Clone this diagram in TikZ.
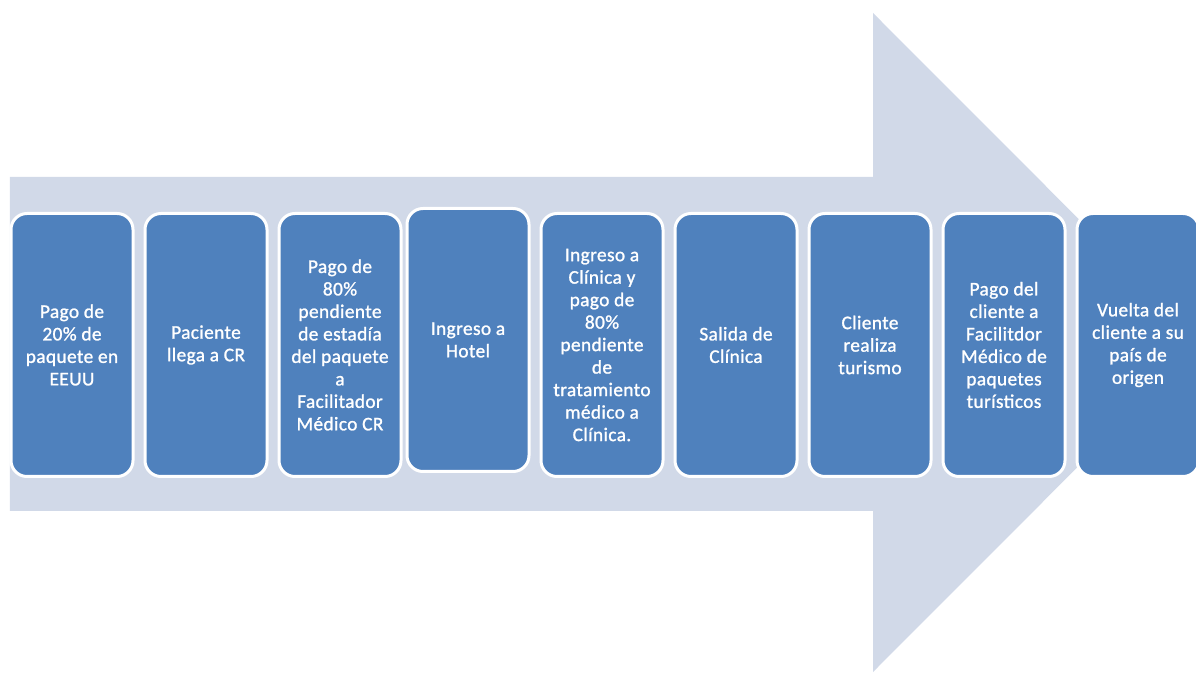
\documentclass[tikz,border=0pt]{standalone}
\usepackage{fontspec}
\usepackage{tikz}
\usetikzlibrary{positioning}
\newfontfamily\boxfont[FakeBold=1.2,LetterSpace=2]{Carlito}
\definecolor{boxblue}{HTML}{4F81BD}
\definecolor{arrowgray}{HTML}{D1D9E8}

\begin{document}
\begin{tikzpicture}[
    node distance=0.24cm,
    stepbox/.style={
        rectangle, draw=white, fill=boxblue, line width=0.06cm,
        rounded corners=0.32cm, outer sep=0pt,
        minimum width=2.44cm, minimum height=5.26cm,
        align=center, text=white, font=\boxfont\fontsize{11}{12.8}\selectfont
    }
]
    \useasboundingbox (0,0) rectangle (23.92,-13.46);
    % big arrow behind the steps
    \fill[arrowgray] (0.2,-3.54) -- (17.46,-3.54) -- (17.46,-0.26) -- (24.04,-6.85)
        -- (17.46,-13.44) -- (17.46,-10.22) -- (0.2,-10.22) -- cycle;

    \node[stepbox] (pago20) at (1.44,-6.9) {Pago de\\20\% de\\paquete en\\EEUU};
    \node[stepbox, right=of pago20] (llegada) {Paciente\\llega a CR};
    \node[stepbox, right=of llegada] (pago80) {Pago de\\80\%\\pendiente\\de estadía\\del paquete\\a\\Facilitador\\Médico CR};
    \node[stepbox, right=0.12cm of pago80, yshift=0.1cm] (hotel) {Ingreso a\\Hotel};
    \node[stepbox, right=of hotel, yshift=-0.1cm] (clinica) {Ingreso a\\Clínica y\\pago de\\80\%\\pendiente\\de\\tratamiento\\médico a\\Clínica.};
    \node[stepbox, right=of clinica] (salida) {Salida de\\Clínica};
    \node[stepbox, right=of salida] (turismo) {Cliente\\realiza\\turismo};
    \node[stepbox, right=of turismo] (pagotur) {Pago del\\cliente a\\Facilitdor\\Médico de\\paquetes\\turísticos};
    \node[stepbox, right=of pagotur] (vuelta) {Vuelta del\\cliente a su\\país de\\origen};
\end{tikzpicture}
\end{document}
